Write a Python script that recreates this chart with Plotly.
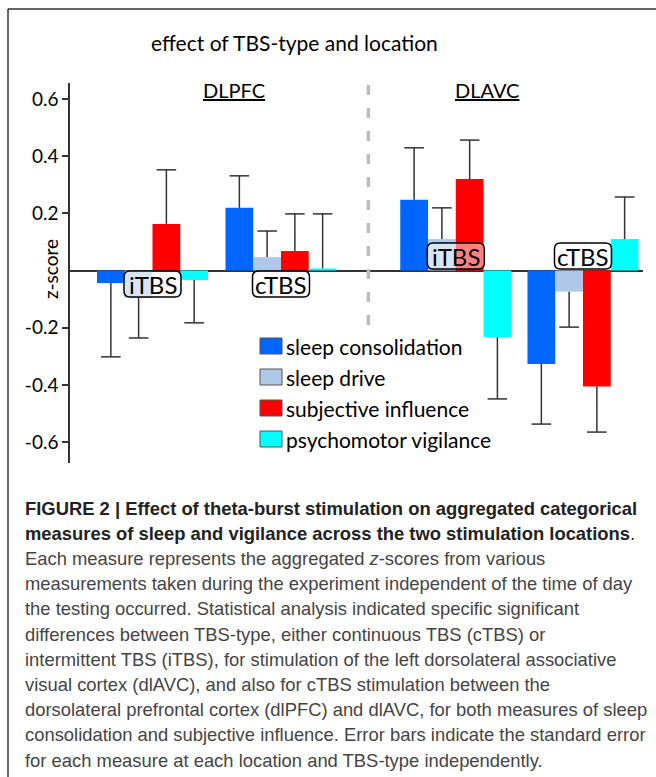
import plotly.graph_objects as go

# ---------------- data ----------------
measures = ["sleep consolidation", "sleep drive", "subjective influence", "psychomotor vigilance"]
conditions = ["DLPFC iTBS", "DLPFC cTBS", "DLAVC iTBS", "DLAVC cTBS"]
tbs_labels = ["iTBS", "cTBS", "iTBS", "cTBS"]
locations = ["DLPFC", "DLAVC"]

sleep_consolidation = [-0.044, 0.219, 0.247, -0.327]
sleep_drive = [-0.096, 0.047, 0.110, -0.074]
subjective_influence = [0.163, 0.068, 0.320, -0.406]
psychomotor_vigilance = [-0.033, 0.007, -0.233, 0.110]

sleep_consolidation_se = [0.258, 0.112, 0.182, 0.210]
sleep_drive_se = [0.140, 0.091, 0.109, 0.124]
subjective_influence_se = [0.189, 0.130, 0.136, 0.159]
psychomotor_vigilance_se = [0.150, 0.191, 0.216, 0.147]

y_tick_values = [-0.6, -0.4, -0.2, 0.2, 0.4, 0.6]
y_tick_labels = ["-0.6", "-0.4", "-0.2", "0.2", "0.4", "0.6"]

title_text = "effect of TBS-type and location"
y_title = "z-score"

caption_lines = [
    "<b>FIGURE 2 | Effect of theta-burst stimulation on aggregated categorical</b>",
    "<b>measures of sleep and vigilance across the two stimulation locations</b>.",
    "Each measure represents the aggregated <i>z</i>-scores from various",
    "measurements taken during the experiment independent of the time of day",
    "the testing occurred. Statistical analysis indicated specific significant",
    "differences between TBS-type, either continuous TBS (cTBS) or",
    "intermittent TBS (iTBS), for stimulation of the left dorsolateral associative",
    "visual cortex (dlAVC), and also for cTBS stimulation between the",
    "dorsolateral prefrontal cortex (dlPFC) and dlAVC, for both measures of sleep",
    "consolidation and subjective influence. Error bars indicate the standard error",
    "for each measure at each location and TBS-type independently.",
]

# ---------------- layout / style ----------------
values = [sleep_consolidation, sleep_drive, subjective_influence, psychomotor_vigilance]
errors = [sleep_consolidation_se, sleep_drive_se, subjective_influence_se, psychomotor_vigilance_se]
colors = ["#0066FF", "#B0C8E8", "#FF0000", "#00FFFF"]

group_pos = [0.0, 1.0, 2.36, 3.35]      # horizontal group centres (axis units)
label_side = [-1, -1, 1, 1]             # TBS label box below/above the zero line
bar_w = 0.216

W, H = 656, 777
ML, MR, MT, MB = 70, 13, 83, 314
PW, PH = W - ML - MR, H - MT - MB


def px_x(px):
    return (px - ML) / PW


def px_y(py):
    return (H - MB - py) / PH


FONT = "Lato, 'Open Sans', sans-serif"
CAP_FONT = "'Liberation Sans', Arial, sans-serif"
AX = "#333333"

fig = go.Figure()

for i, (name, vals, errs, col) in enumerate(zip(measures, values, errors, colors)):
    xs = [g + (i - 1.5) * bar_w for g in group_pos]
    plus = [e if v > 0 else 0 for v, e in zip(vals, errs)]
    minus = [e if v < 0 else 0 for v, e in zip(vals, errs)]
    fig.add_trace(go.Bar(
        x=xs, y=vals, width=bar_w, name=name, marker=dict(color=col, line=dict(width=0)),
        error_y=dict(type="data", symmetric=False, array=plus, arrayminus=minus,
                     width=0, thickness=1.5, color=AX),
        showlegend=False, customdata=conditions,
        hovertemplate="%{customdata}<br>" + name + ": %{y}<extra></extra>",
    ))
    tips = [v + e if v > 0 else v - e for v, e in zip(vals, errs)]
    fig.add_trace(go.Scatter(
        x=xs, y=tips, mode="markers", showlegend=False, hoverinfo="skip",
        marker=dict(symbol="line-ew", size=14, color=AX, line=dict(width=1.5, color=AX)),
    ))

shapes = []
annotations = []

# TBS label boxes (rounded) anchored at group centre / zero line
for g, lab, side in zip(group_pos, tbs_labels, label_side):
    x0, x1 = -28.5, 28.5
    if side < 0:
        y0, y1 = -26.5, -0.5
    else:
        y0, y1 = 1.5, 27.5
    r = 6
    path = (f"M{x0 + r},{y0} L{x1 - r},{y0} Q{x1},{y0} {x1},{y0 + r} "
            f"L{x1},{y1 - r} Q{x1},{y1} {x1 - r},{y1} L{x0 + r},{y1} "
            f"Q{x0},{y1} {x0},{y1 - r} L{x0},{y0 + r} Q{x0},{y0} {x0 + r},{y0} Z")
    shapes.append(dict(type="path", xref="x", yref="y", xsizemode="pixel", ysizemode="pixel",
                       xanchor=g, yanchor=0, path=path, layer="above",
                       fillcolor="rgba(255,255,255,0.5)", line=dict(color="#000000", width=1.5)))
    annotations.append(dict(x=g, y=0, xref="x", yref="y", text=lab, showarrow=False,
                            yshift=(y0 + y1) / 2, xanchor="center", yanchor="middle",
                            font=dict(family=FONT, size=24, color="#000000")))

# dashed divider between locations
xdiv = (group_pos[1] + group_pos[2]) / 2
shapes.append(dict(type="line", xref="x", yref="paper", x0=xdiv, x1=xdiv,
                   y0=px_y(85), y1=px_y(328),
                   line=dict(color="#BDBDBD", width=3.5, dash="10px,13px")))

# outer figure frame (left + top)
shapes.append(dict(type="line", xref="paper", yref="paper", x0=px_x(8), x1=px_x(8),
                   y0=px_y(780), y1=px_y(9), line=dict(color=AX, width=1.5)))
shapes.append(dict(type="line", xref="paper", yref="paper", x0=px_x(8), x1=px_x(662),
                   y0=px_y(9), y1=px_y(9), line=dict(color=AX, width=1.5)))

# manual legend
legend_rows = [346, 377, 408, 439]
for name, col, cy in zip(measures, colors, legend_rows):
    shapes.append(dict(type="rect", xref="paper", yref="paper",
                       x0=px_x(260), x1=px_x(282), y0=px_y(cy + 8), y1=px_y(cy - 8),
                       fillcolor=col, line=dict(color="#555555", width=1)))
    annotations.append(dict(x=px_x(284), y=px_y(cy), xref="paper", yref="paper", text=name,
                            showarrow=False, xanchor="left", yanchor="middle",
                            font=dict(family=FONT, size=21, color="#000000")))

# title, location headers, y title
annotations.append(dict(x=px_x(294), y=px_y(43), xref="paper", yref="paper", text=title_text,
                        showarrow=False, xanchor="center", yanchor="middle",
                        font=dict(family=FONT, size=21, color="#000000")))
for loc, cx in zip(locations, [233.5, 486.5]):
    annotations.append(dict(x=px_x(cx), y=px_y(90), xref="paper", yref="paper",
                            text=f"<u>{loc}</u>", showarrow=False, xanchor="center",
                            yanchor="middle", font=dict(family=FONT, size=20, color="#000000")))
annotations.append(dict(x=px_x(50), y=px_y(269), xref="paper", yref="paper", text=y_title,
                        textangle=-90, showarrow=False, xanchor="center", yanchor="middle",
                        font=dict(family=FONT, size=19, color="#000000")))

# caption
for k, line in enumerate(caption_lines):
    bold = k < 2
    annotations.append(dict(x=px_x(23), y=px_y(508 + 25.2 * k), xref="paper", yref="paper",
                            text=line, showarrow=False, xanchor="left", yanchor="middle",
                            font=dict(family=CAP_FONT, size=18.4 if bold else 18.4,
                                      color="#222222" if bold else "#444444")))

fig.update_layout(
    width=W, height=H, margin=dict(l=ML, r=MR, t=MT, b=MB, pad=0),
    paper_bgcolor="white", plot_bgcolor="white",
    barmode="overlay", showlegend=False,
    xaxis=dict(range=[-0.642, 3.817], visible=False, fixedrange=True),
    yaxis=dict(range=[-0.6731, 0.6556], tickvals=y_tick_values, ticktext=y_tick_labels,
               showgrid=False, zeroline=True, zerolinecolor=AX, zerolinewidth=1.5,
               showline=True, linecolor=AX, linewidth=1.5,
               ticks="outside", ticklen=6, tickwidth=1.5, tickcolor=AX,
               tickfont=dict(family=FONT, size=19, color="#000000")),
    shapes=shapes, annotations=annotations,
)

fig.write_html("out.html", config={"displayModeBar": False},
               post_script="document.body.style.margin='0';document.body.style.overflow='hidden';")
